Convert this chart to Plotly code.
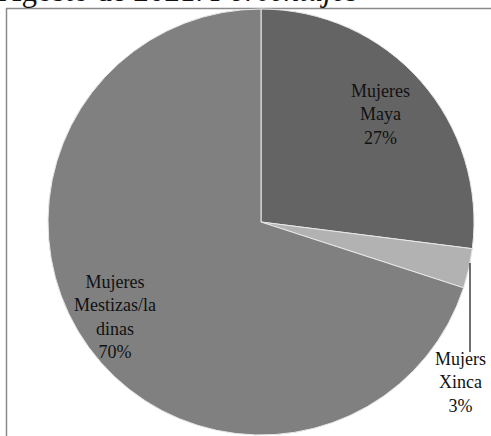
import plotly.graph_objects as go

labels = ["Mujeres<br>Maya", "Mujers<br>Xinca", "Mujeres<br>Mestizas/la<br>dinas"]
values = [27, 3, 70]
colors = ["#646464", "#b2b2b2", "#808080"]
title_text = "Agosto de 2021. <i>Porcentajes</i>"

W, H = 491, 436
cx, cy, r = 261, 222, 213

fig = go.Figure(go.Pie(
    labels=labels, values=values, sort=False, direction="clockwise", rotation=0,
    marker=dict(colors=colors, line=dict(color="#e8e8e8", width=1)),
    textinfo="none", hoverinfo="label+percent", showlegend=False,
    domain=dict(x=[(cx - r) / W, (cx + r) / W], y=[(H - cy - r) / H, (H - cy + r) / H]),
))

label_pos = [(380, 114), (460, 382), (115, 317)]
total = sum(values)
font = dict(family="Liberation Serif, Times New Roman, serif", size=18, color="#111111")
for lab, v, (px, py) in zip(labels, values, label_pos):
    fig.add_annotation(x=px / W, y=1 - py / H, xref="paper", yref="paper",
                       text=f"{lab}<br>{round(100 * v / total)}%", showarrow=False,
                       font=font, align="center", xanchor="center", yanchor="middle")

fig.add_annotation(x=0, y=1, xref="paper", yref="paper", xanchor="left", yanchor="middle",
                   xshift=-3, yshift=10, text=title_text, showarrow=False,
                   font=dict(family="Liberation Serif, Times New Roman, serif", size=31, color="#111111"))

fig.update_layout(
    width=W, height=H, margin=dict(l=0, r=0, t=0, b=0),
    paper_bgcolor="white", plot_bgcolor="white",
    shapes=[
        dict(type="rect", xref="paper", yref="paper", x0=6.5 / W, x1=1.02, y0=-0.02, y1=1 - 8.5 / H,
             line=dict(color="#8a8a8a", width=1.5), layer="below"),
        dict(type="line", xref="paper", yref="paper", x0=470 / W, x1=470 / W,
             y0=1 - 263 / H, y1=1 - 352 / H, line=dict(color="#111111", width=1.2)),
    ],
)
fig.write_html("out.html", config={"displayModeBar": False},
               post_script="document.body.style.margin='0';document.body.style.overflow='hidden';")
